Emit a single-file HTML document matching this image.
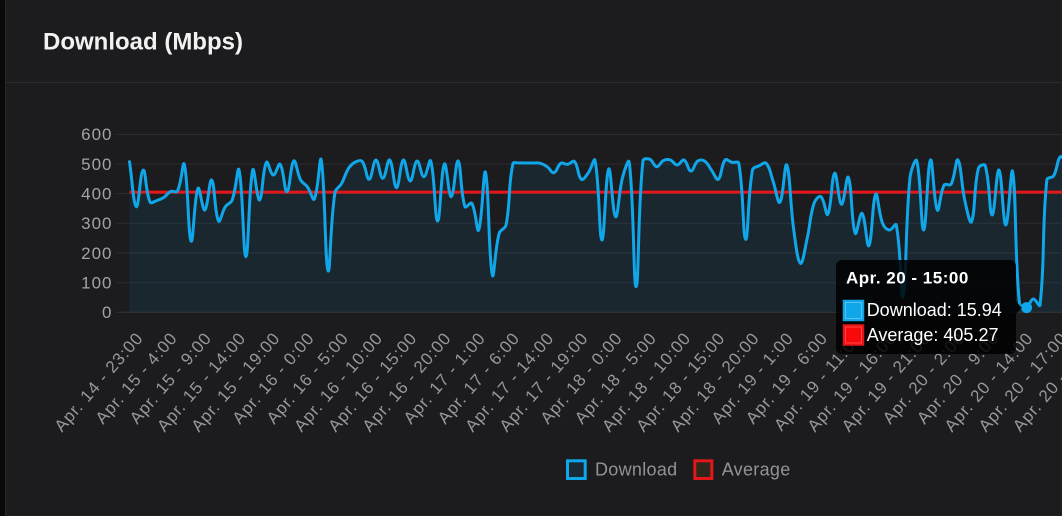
<!DOCTYPE html>
<html><head><meta charset="utf-8">
<style>
html,body{margin:0;padding:0;width:1062px;height:516px;overflow:hidden;background:#0a0a0b;}
svg{display:block;font-family:"Liberation Sans",Arial,sans-serif;overflow:hidden;}
</style></head>
<body>
<svg width="1062" height="516" viewBox="0 0 1062 516" xmlns="http://www.w3.org/2000/svg">
  <defs><clipPath id="cp"><rect x="0" y="0" width="1062" height="516"/></clipPath></defs>
  <g clip-path="url(#cp)">
  <rect x="0" y="0" width="1062" height="516" fill="#09090a"/>
  <path d="M5.5 516 L5.5 4 Q5.5 -12 21.5 -12 L1062 -12 L1062 516 Z" fill="#1c1c1e" stroke="#29292c" stroke-width="1"/>
  <line x1="6" y1="82.5" x2="1062" y2="82.5" stroke="#2c2c2f" stroke-width="1"/>
  <text x="43" y="49.3" font-size="24" font-weight="bold" fill="#f2f2f2">Download (Mbps)</text>

  <!-- grid -->
  <g stroke="#2b2d31" stroke-width="1">
    <line x1="117" y1="134.5" x2="1062" y2="134.5"/>
    <line x1="117" y1="164" x2="1062" y2="164"/>
    <line x1="117" y1="193.5" x2="1062" y2="193.5"/>
    <line x1="117" y1="223.3" x2="1062" y2="223.3"/>
    <line x1="117" y1="253" x2="1062" y2="253"/>
    <line x1="117" y1="282.7" x2="1062" y2="282.7"/>
  </g>
  <line x1="117" y1="312.3" x2="1062" y2="312.3" stroke="#303236" stroke-width="1.2"/>

  <!-- y labels -->
  <g font-size="17" fill="#a2a2a7" text-anchor="end" letter-spacing="1">
    <text x="112.5" y="140.2">600</text>
    <text x="112.5" y="169.8">500</text>
    <text x="112.5" y="199.4">400</text>
    <text x="112.5" y="229.1">300</text>
    <text x="112.5" y="258.8">200</text>
    <text x="112.5" y="288.5">100</text>
    <text x="112.5" y="318.1">0</text>
  </g>

  <!-- area fallback + smooth -->
  <polygon id="pg" fill="rgba(14,165,233,0.085)" transform="matrix(6.846 0 0 1 129.5 0)" points=""/>
  <path id="area" fill="rgba(14,165,233,0.085)"/>

  <!-- average -->
  <line x1="129.5" y1="192.1" x2="1062" y2="192.1" stroke="#e3161a" stroke-width="3"/>

  <!-- download line -->
  <polyline id="pl" fill="none" stroke="#10a6ea" stroke-width="3" stroke-linejoin="round" vector-effect="non-scaling-stroke" transform="matrix(6.846 0 0 1 129.5 0)" points="0,161.7 1,206.7 2,170 3,202 4,200.5 5,197.5 6,191.5 7,191 8,164.3 9,241 10,188.3 11,210 12,180 13,221 14,206.7 15,200 16,170 17,256.7 18,170 19,200 20,162.3 21,175 22,164.3 23,191.7 24,161 25,180 26,187 27,199 28,160 29,270.7 30,193 31,183.3 32,168.3 33,162 34,161.5 35,179.3 36,160 37,178.3 38,160 39,187.7 40,160 41,181 42,161 43,176.7 44,161 45,221 46,164 47,196.7 48,161 49,206.7 50,203.3 51,230 52,172.3 53,275 54,233.3 55,225 56,164 57,163 58,163 59,163 60,163.3 61,166.7 62,172.7 63,163.3 64,164.3 65,161.5 66,179.3 67,173 68,160.5 69,240 70,169 71,216.7 72,178 73,162.3 74,286.7 75,161 76,159.3 77,166.7 78,160.5 79,160 80,165 81,160 82,171 83,161 84,161 85,170 86,179.3 87,160 88,162.3 89,163.3 90,239.3 91,170 92,165.7 93,163.3 94,181 95,202.3 96,165 97,228.3 98,263.3 99,238 100,203 101,196.7 102,214.3 103,173.3 104,204.3 105,177.3 106,233.3 107,213.3 108,245.7 109,194.3 110,223.3 111,230 112,225 113,296.7 114,178.3 115,161 116,230 117,160 118,210 119,185 120,184.3 121,160 122,200 123,221.7 124,168.3 125,165.7 126,215 127,170 128,225 129,171.7 130,303.3 131,307.6 132,299 133,305 134,180 135,175.7 136,156.7 137,165"/>
  <path id="ln" fill="none" stroke="#10a6ea" stroke-width="3" stroke-linejoin="round" stroke-linecap="round"/>

  <circle cx="1026.6" cy="307.6" r="5.5" fill="#10a6ea"/>

  <!-- x labels -->
  <g font-size="17" fill="#97979c" text-anchor="end" letter-spacing="0.9">
    <text transform="translate(144,338.5) rotate(-49)">Apr. 14 - 23:00</text>
    <text transform="translate(178.23,338.5) rotate(-49)">Apr. 15 - 4:00</text>
    <text transform="translate(212.46,338.5) rotate(-49)">Apr. 15 - 9:00</text>
    <text transform="translate(246.69,338.5) rotate(-49)">Apr. 15 - 14:00</text>
    <text transform="translate(280.92,338.5) rotate(-49)">Apr. 15 - 19:00</text>
    <text transform="translate(315.15,338.5) rotate(-49)">Apr. 16 - 0:00</text>
    <text transform="translate(349.38,338.5) rotate(-49)">Apr. 16 - 5:00</text>
    <text transform="translate(383.61,338.5) rotate(-49)">Apr. 16 - 10:00</text>
    <text transform="translate(417.84,338.5) rotate(-49)">Apr. 16 - 15:00</text>
    <text transform="translate(452.07,338.5) rotate(-49)">Apr. 16 - 20:00</text>
    <text transform="translate(486.3,338.5) rotate(-49)">Apr. 17 - 1:00</text>
    <text transform="translate(520.53,338.5) rotate(-49)">Apr. 17 - 6:00</text>
    <text transform="translate(554.76,338.5) rotate(-49)">Apr. 17 - 14:00</text>
    <text transform="translate(588.99,338.5) rotate(-49)">Apr. 17 - 19:00</text>
    <text transform="translate(623.22,338.5) rotate(-49)">Apr. 18 - 0:00</text>
    <text transform="translate(657.45,338.5) rotate(-49)">Apr. 18 - 5:00</text>
    <text transform="translate(691.68,338.5) rotate(-49)">Apr. 18 - 10:00</text>
    <text transform="translate(725.91,338.5) rotate(-49)">Apr. 18 - 15:00</text>
    <text transform="translate(760.14,338.5) rotate(-49)">Apr. 18 - 20:00</text>
    <text transform="translate(794.37,338.5) rotate(-49)">Apr. 19 - 1:00</text>
    <text transform="translate(828.6,338.5) rotate(-49)">Apr. 19 - 6:00</text>
    <text transform="translate(862.83,338.5) rotate(-49)">Apr. 19 - 11:00</text>
    <text transform="translate(897.06,338.5) rotate(-49)">Apr. 19 - 16:00</text>
    <text transform="translate(931.29,338.5) rotate(-49)">Apr. 19 - 21:00</text>
    <text transform="translate(965.52,338.5) rotate(-49)">Apr. 20 - 2:00</text>
    <text transform="translate(999.75,338.5) rotate(-49)">Apr. 20 - 9:00</text>
    <text transform="translate(1033.98,338.5) rotate(-49)">Apr. 20 - 14:00</text>
    <text transform="translate(1068.21,338.5) rotate(-49)">Apr. 20 - 17:00</text>
    <text transform="translate(1102.44,338.5) rotate(-49)">Apr. 20 - 22:00</text>
  </g>

  <!-- legend -->
  <rect x="567.5" y="460.8" width="17.7" height="17.7" fill="#1a2a35" stroke="#10a6ea" stroke-width="3"/>
  <text x="595" y="475.7" font-size="18" fill="#929297" letter-spacing="0.3">Download</text>
  <rect x="694.8" y="460.8" width="17" height="17.7" fill="#2e281c" stroke="#e3161a" stroke-width="3"/>
  <text x="721.7" y="475.7" font-size="18" fill="#929297" letter-spacing="0.3">Average</text>

  <!-- tooltip -->
  <rect x="836" y="260" width="180" height="94" rx="6" fill="rgba(0,0,0,0.84)"/>
  <polygon points="1016,301.5 1022,307.6 1016,313.7" fill="rgba(0,0,0,0.84)"/>
  <text x="846" y="283.5" font-size="17" font-weight="bold" fill="#ffffff" letter-spacing="0.5">Apr. 20 - 15:00</text>
  <rect x="843.5" y="300.5" width="20" height="20" fill="#10a6ea" stroke="#10a6ea" stroke-width="1.5"/>
  <rect x="845.5" y="302.5" width="16" height="16" fill="none" stroke="#ffffff" stroke-opacity="0.3" stroke-width="1"/>
  <text x="866.7" y="316" font-size="18" fill="#ffffff">Download: 15.94</text>
  <rect x="843.5" y="325" width="20" height="20" fill="#f80a0a" stroke="#e3161a" stroke-width="1.5"/>
  <rect x="845.5" y="327" width="16" height="16" fill="none" stroke="#ff8a8a" stroke-opacity="0.5" stroke-width="1"/>
  <text x="866.7" y="341" font-size="18" fill="#ffffff">Average: 405.27</text>
  </g>
</svg>
<script>
(function(){
  try{
    var pl=document.getElementById('pl');
    var raw=pl.getAttribute('points').trim().split(/\s+/);
    var pts=raw.map(function(s){var a=s.split(',');return [129.5+6.846*parseFloat(a[0]),parseFloat(a[1])];});
    var pg=document.getElementById('pg');
    pg.setAttribute('points',pl.getAttribute('points')+' 137,312.3 0,312.3');
    var n=pts.length,t=0.4,cps=[];
    for(var i=0;i<n;i++){
      var p=pts[i],a=pts[i-1]||p,b=pts[i+1]||p;
      var d01=Math.sqrt(Math.pow(p[0]-a[0],2)+Math.pow(p[1]-a[1],2));
      var d12=Math.sqrt(Math.pow(b[0]-p[0],2)+Math.pow(b[1]-p[1],2));
      var s01=(d01+d12)?d01/(d01+d12):0, s12=(d01+d12)?d12/(d01+d12):0;
      var fa=t*s01,fb=t*s12;
      cps.push([[p[0]-fa*(b[0]-a[0]),p[1]-fa*(b[1]-a[1])],[p[0]+fb*(b[0]-a[0]),p[1]+fb*(b[1]-a[1])]]);
    }
    function f(v){return v.toFixed(2);}
    var d='M'+f(pts[0][0])+' '+f(pts[0][1]);
    for(i=1;i<n;i++){
      d+=' C'+f(cps[i-1][1][0])+' '+f(cps[i-1][1][1])+' '+f(cps[i][0][0])+' '+f(cps[i][0][1])+' '+f(pts[i][0])+' '+f(pts[i][1]);
    }
    document.getElementById('ln').setAttribute('d',d);
    document.getElementById('area').setAttribute('d',d+' L'+f(pts[n-1][0])+' 312.3 L129.5 312.3 Z');
    pl.style.display='none';
    pg.style.display='none';
  }catch(e){}
})();
</script>
</body></html>
